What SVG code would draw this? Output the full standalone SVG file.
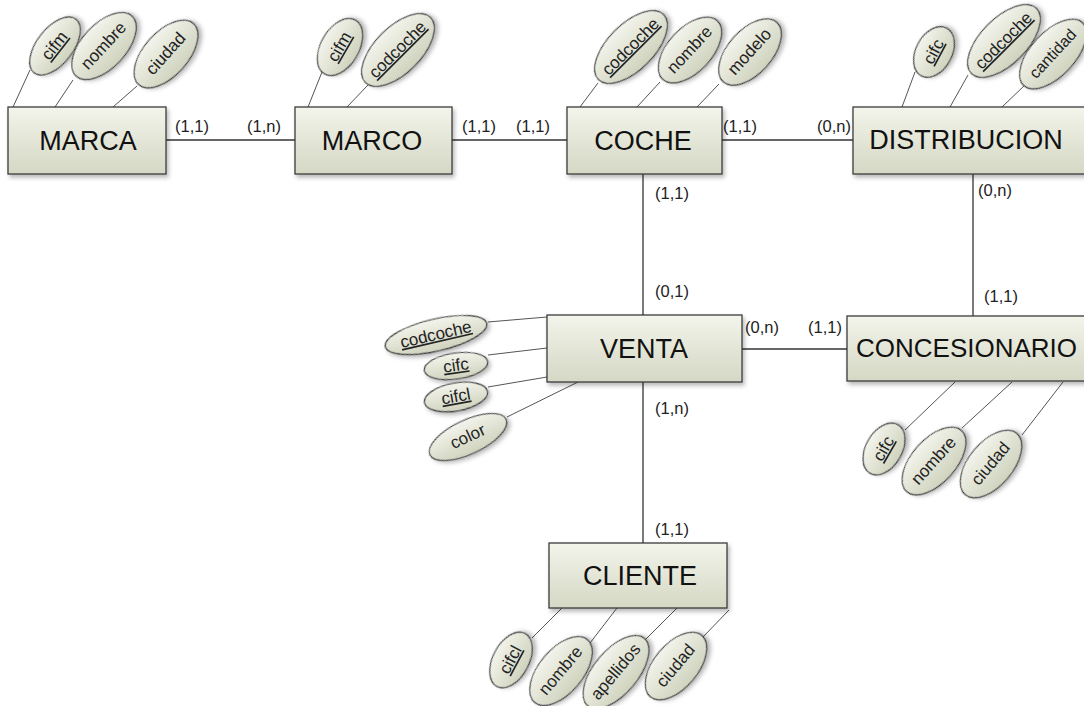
<svg xmlns="http://www.w3.org/2000/svg" width="1084" height="706" viewBox="0 0 1084 706">
<defs>
<linearGradient id="gBox" x1="0" y1="0" x2="0" y2="1">
<stop offset="0" stop-color="#f3f4eb"/>
<stop offset="1" stop-color="#d4d8c4"/>
</linearGradient>
<linearGradient id="gEl" x1="0" y1="0" x2="0" y2="1">
<stop offset="0" stop-color="#f3f4ec"/>
<stop offset="1" stop-color="#cfd3bd"/>
</linearGradient>
<filter id="sh" x="-20%" y="-20%" width="150%" height="160%">
<feDropShadow dx="2" dy="3" stdDeviation="2" flood-color="#000" flood-opacity="0.28"/>
</filter>
</defs>
<style>
.ent{fill:url(#gBox);stroke:#3c3c3c;stroke-width:1.3;filter:url(#sh)}
.et{font-family:"Liberation Sans",Arial,sans-serif;font-size:27px;fill:#111;text-anchor:middle}
.att{fill:url(#gEl);stroke:#3c3c3c;stroke-width:1.2;filter:url(#sh)}
.at{font-family:"Liberation Sans",Arial,sans-serif;font-size:17px;fill:#222;text-anchor:middle}
.k{text-decoration:underline}
.ln{stroke:#333;stroke-width:1.3;fill:none}
.al{stroke:#555;stroke-width:1;fill:none}
.lb{font-family:"Liberation Sans",Arial,sans-serif;font-size:16.5px;fill:#222}
</style>
<rect width="1084" height="706" fill="#fff"/>

<g id="connectors">
<line class="ln" x1="166" y1="140" x2="295" y2="140"/>
<line class="ln" x1="452" y1="140" x2="567" y2="140"/>
<line class="ln" x1="722" y1="140" x2="853" y2="140"/>
<line class="ln" x1="643" y1="174" x2="643" y2="315"/>
<line class="ln" x1="973" y1="174" x2="973" y2="316"/>
<line class="ln" x1="742" y1="349" x2="847" y2="349"/>
<line class="ln" x1="643" y1="382" x2="643" y2="543"/>
<line class="al" x1="13" y1="107" x2="30" y2="70"/>
<line class="al" x1="55" y1="107" x2="73" y2="80"/>
<line class="al" x1="113" y1="107" x2="137" y2="86"/>
<line class="al" x1="308" y1="107" x2="322" y2="72"/>
<line class="al" x1="347" y1="107" x2="368" y2="85"/>
<line class="al" x1="580" y1="107" x2="598" y2="83"/>
<line class="al" x1="637" y1="107" x2="660" y2="82"/>
<line class="al" x1="697" y1="107" x2="719" y2="84"/>
<line class="al" x1="902" y1="107" x2="915" y2="72"/>
<line class="al" x1="950" y1="107" x2="968" y2="75"/>
<line class="al" x1="1002" y1="107" x2="1025" y2="85"/>
<line class="al" x1="488" y1="322" x2="547" y2="317"/>
<line class="al" x1="488" y1="355" x2="547" y2="348"/>
<line class="al" x1="488" y1="387" x2="547" y2="377"/>
<line class="al" x1="507" y1="417" x2="578" y2="382"/>
<line class="al" x1="955" y1="382" x2="905" y2="430"/>
<line class="al" x1="1012" y1="382" x2="962" y2="428"/>
<line class="al" x1="1063" y1="382" x2="1022" y2="435"/>
<line class="al" x1="562" y1="608" x2="532" y2="638"/>
<line class="al" x1="617" y1="608" x2="590" y2="643"/>
<line class="al" x1="677" y1="608" x2="645" y2="640"/>
<line class="al" x1="729" y1="610" x2="702" y2="638"/>
</g>

<g id="labels">
<text class="lb" x="175" y="132">(1,1)</text>
<text class="lb" x="247" y="132">(1,n)</text>
<text class="lb" x="462" y="132">(1,1)</text>
<text class="lb" x="516" y="132">(1,1)</text>
<text class="lb" x="723" y="132">(1,1)</text>
<text class="lb" x="817" y="132">(0,n)</text>
<text class="lb" x="655" y="199">(1,1)</text>
<text class="lb" x="655" y="297">(0,1)</text>
<text class="lb" x="978" y="196">(0,n)</text>
<text class="lb" x="984" y="302">(1,1)</text>
<text class="lb" x="745" y="333">(0,n)</text>
<text class="lb" x="808" y="333">(1,1)</text>
<text class="lb" x="655" y="414">(1,n)</text>
<text class="lb" x="655" y="535">(1,1)</text>
</g>

<g id="MARCA">
<rect class="ent" x="8" y="107" width="158" height="67"/>
<text class="et" x="88" y="150">MARCA</text>
<g transform="translate(55,46) rotate(-52)"><ellipse class="att" rx="34" ry="18"/><text class="at k" y="5">cifm</text></g>
<g transform="translate(104,46) rotate(-47)"><ellipse class="att" rx="41" ry="22"/><text class="at" y="5">nombre</text></g>
<g transform="translate(166,54) rotate(-48)"><ellipse class="att" rx="41" ry="22"/><text class="at" y="5">ciudad</text></g>
</g>

<g id="MARCO">
<rect class="ent" x="295" y="107" width="157" height="67"/>
<text class="et" x="372" y="150">MARCO</text>
<g transform="translate(340,47) rotate(-60)"><ellipse class="att" rx="31" ry="19"/><text class="at k" y="5">cifm</text></g>
<g transform="translate(398,50) rotate(-45)"><ellipse class="att" rx="46" ry="23"/><text class="at k" y="5">codcoche</text></g>
</g>

<g id="COCHE">
<rect class="ent" x="567" y="107" width="155" height="67"/>
<text class="et" x="643" y="150">COCHE</text>
<g transform="translate(631,47) rotate(-45)"><ellipse class="att" rx="46" ry="23"/><text class="at k" y="5">codcoche</text></g>
<g transform="translate(690,50) rotate(-47)"><ellipse class="att" rx="40" ry="22"/><text class="at" y="5">nombre</text></g>
<g transform="translate(750,52) rotate(-48)"><ellipse class="att" rx="40" ry="22"/><text class="at" y="5">modelo</text></g>
</g>

<g id="DISTRIBUCION">
<rect class="ent" x="853" y="107" width="240" height="67"/>
<text class="et" x="966" y="149">DISTRIBUCION</text>
<g transform="translate(934,52) rotate(-62)"><ellipse class="att" rx="27" ry="18"/><text class="at k" y="5">cifc</text></g>
<g transform="translate(1004,41) rotate(-45)"><ellipse class="att" rx="46" ry="23"/><text class="at k" y="5">codcoche</text></g>
<g transform="translate(1053,54) rotate(-47)"><ellipse class="att" rx="43" ry="22"/><text class="at" y="5" style="font-size:16px">cantidad</text></g>
</g>

<g id="VENTA">
<rect class="ent" x="547" y="315" width="195" height="67"/>
<text class="et" x="644" y="358">VENTA</text>
<g transform="translate(436,335) rotate(-13)"><ellipse class="att" rx="52" ry="16"/><text class="at k" y="5">codcoche</text></g>
<g transform="translate(456,366) rotate(-8)"><ellipse class="att" rx="32" ry="13"/><text class="at k" y="5">cifc</text></g>
<g transform="translate(456,397) rotate(-10)"><ellipse class="att" rx="32" ry="14"/><text class="at k" y="5">cifcl</text></g>
<g transform="translate(468,437) rotate(-25)"><ellipse class="att" rx="42" ry="17"/><text class="at" y="5">color</text></g>
</g>

<g id="CONCESIONARIO">
<rect class="ent" x="847" y="316" width="250" height="65"/>
<text class="et" x="856" y="357" style="text-anchor:start;font-size:26px">CONCESIONARIO</text>
<g transform="translate(884,449) rotate(-60)"><ellipse class="att" rx="28" ry="18"/><text class="at k" y="5">cifc</text></g>
<g transform="translate(934,461) rotate(-48)"><ellipse class="att" rx="41" ry="22"/><text class="at" y="5">nombre</text></g>
<g transform="translate(991,464) rotate(-50)"><ellipse class="att" rx="40" ry="22"/><text class="at" y="5">ciudad</text></g>
</g>

<g id="CLIENTE">
<rect class="ent" x="549" y="543" width="178" height="65"/>
<text class="et" x="640" y="585">CLIENTE</text>
<g transform="translate(511,660) rotate(-62)"><ellipse class="att" rx="30" ry="18"/><text class="at k" y="5">cifcl</text></g>
<g transform="translate(561,671) rotate(-50)"><ellipse class="att" rx="41" ry="22"/><text class="at" y="5">nombre</text></g>
<g transform="translate(616,672) rotate(-50)"><ellipse class="att" rx="44" ry="22"/><text class="at" y="5">apellidos</text></g>
<g transform="translate(676,666) rotate(-50)"><ellipse class="att" rx="40" ry="22"/><text class="at" y="5">ciudad</text></g>
</g>
</svg>
